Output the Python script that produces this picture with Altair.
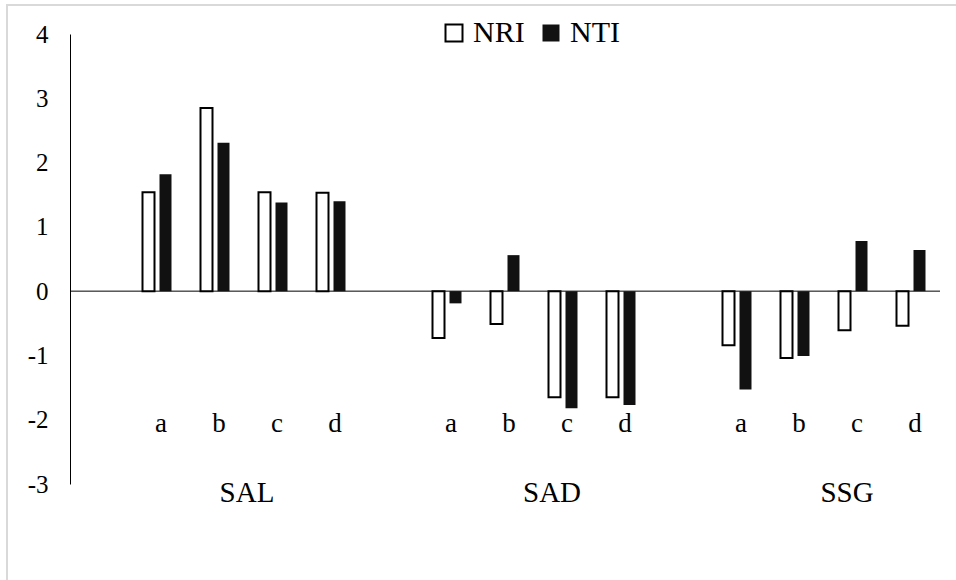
import altair as alt
import pandas as pd

# ---- data ----
GROUPS = ["SAL", "SAD", "SSG"]
SUBS = ["a", "b", "c", "d"]
SERIES = ["NRI", "NTI"]
NRI = {
    "SAL": [1.54, 2.85, 1.54, 1.53],
    "SAD": [-0.73, -0.51, -1.65, -1.65],
    "SSG": [-0.84, -1.04, -0.61, -0.54],
}
NTI = {
    "SAL": [1.82, 2.31, 1.38, 1.40],
    "SAD": [-0.19, 0.56, -1.82, -1.77],
    "SSG": [-1.53, -1.01, 0.78, 0.64],
}
Y_TICKS = [-3, -2, -1, 0, 1, 2, 3, 4]

# slot order: a blank slot before each group
slots = []
for g in GROUPS:
    slots.append(f"gap-{g}")
    for s in SUBS:
        slots.append(f"{g}-{s}")

rows = []
for g in GROUPS:
    for i, s in enumerate(SUBS):
        rows.append({"slot": f"{g}-{s}", "group": g, "sub": s, "series": "NRI", "value": NRI[g][i]})
        rows.append({"slot": f"{g}-{s}", "group": g, "sub": s, "series": "NTI", "value": NTI[g][i]})
df = pd.DataFrame(rows)
sub_df = df[df.series == "NRI"][["slot", "sub", "group"]].reset_index(drop=True)

FONT = "Liberation Serif"
x_scale = alt.Scale(domain=slots, paddingInner=0, paddingOuter=0)
x_enc = alt.X("slot:N", scale=x_scale, axis=None)

bars = alt.Chart(df).mark_bar(width=12, stroke="black").encode(
    x=x_enc,
    xOffset=alt.XOffset("series:N", scale=alt.Scale(domain=SERIES, paddingInner=0, paddingOuter=0.706)),
    y=alt.Y("value:Q", scale=alt.Scale(domain=[-3, 4], nice=False, zero=False),
            axis=alt.Axis(values=Y_TICKS, labelExpr="'' + datum.value", title=None,
                          grid=False, ticks=False,
                          domainColor="black", domainWidth=1, labelPadding=22,
                          labelFont=FONT, labelFontSize=25, labelColor="#000")),
    fill=alt.Fill("series:N", scale=alt.Scale(domain=SERIES, range=["white", "#111111"]),
                  legend=alt.Legend(title=None, orient="none", direction="horizontal",
                                    legendX=369, legendY=-16, symbolType="square",
                                    symbolSize=289, symbolStrokeColor="black",
                                    symbolStrokeWidth=2, labelFont=FONT, labelFontSize=30,
                                    labelColor="#000", labelOffset=4, columnPadding=11,
                                    padding=0)),
    strokeWidth=alt.StrokeWidth("series:N", scale=alt.Scale(domain=SERIES, range=[2, 0]), legend=None),
)

zero = alt.Chart(pd.DataFrame({"z": [0]})).mark_rule(color="black", strokeWidth=1).encode(
    y=alt.Y("z:Q")
)

sub_labels = alt.Chart(sub_df).mark_text(
    font=FONT, fontSize=27, baseline="alphabetic", align="center", dx=4, color="#000"
).encode(x=x_enc, y=alt.datum(-2.19), text="sub:N")

group_dx = {"SAL": 3, "SAD": 18, "SSG": 23}
group_layers = []
for g in GROUPS:
    gdf = pd.DataFrame({"slot": [f"{g}-b"], "group": [g]})
    group_layers.append(
        alt.Chart(gdf).mark_text(font=FONT, fontSize=29, baseline="alphabetic",
                                 align="center", dx=group_dx[g], color="#000").encode(
            x=alt.X("slot:N", scale=x_scale, axis=None, bandPosition=1),
            y=alt.datum(-3.28), text="group:N")
    )

# light-gray chart-area frame (left and top edges visible in the picture)
frame_df = pd.DataFrame({"f": [0]})
frame_top = alt.Chart(frame_df).mark_rule(color="#d9d9d9", strokeWidth=2).encode(
    x=alt.value(-64), x2=alt.value(900), y=alt.value(-29))
frame_left = alt.Chart(frame_df).mark_rule(color="#d9d9d9", strokeWidth=2).encode(
    x=alt.value(-63), y=alt.value(-30), y2=alt.value(560))

chart = alt.layer(frame_top, frame_left, zero, bars, sub_labels, *group_layers).properties(
    width=870, height=450,
    autosize=alt.AutoSizeParams(type="none"),
    padding={"left": 70, "top": 34, "right": 16, "bottom": 96},
).configure(background="white", font=FONT).configure_view(stroke=None)

chart.save("out.html", embed_options={"renderer": "svg", "actions": False})
